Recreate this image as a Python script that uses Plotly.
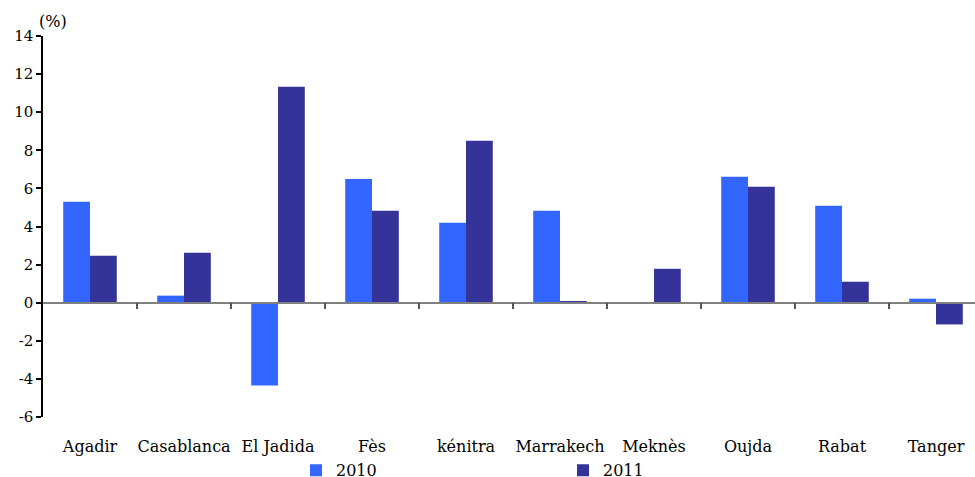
import plotly.graph_objects as go

# Year-on-year change by city (%)
cities = ["Agadir", "Casablanca", "El Jadida", "Fès", "kénitra",
          "Marrakech", "Meknès", "Oujda", "Rabat", "Tanger"]
values_2010 = [5.3, 0.37, -4.35, 6.5, 4.2, 4.83, 0.0, 6.61, 5.09, 0.21]
values_2011 = [2.47, 2.62, 11.34, 4.83, 8.5, 0.05, 1.78, 6.09, 1.1, -1.14]
y_ticks = [-6, -4, -2, 0, 2, 4, 6, 8, 10, 12, 14]

FONT = "DejaVu Serif"
x_range = [-0.5, 9.415]
y_min, y_max = -6, 14

fig = go.Figure()
fig.add_trace(go.Bar(name="2010", x=cities, y=values_2010,
                     marker=dict(color="#3366FF", line=dict(width=0))))
fig.add_trace(go.Bar(name="2011", x=cities, y=values_2011,
                     marker=dict(color="#333399", line=dict(width=0))))
# empty trace so the separator axis along zero gets drawn
fig.add_trace(go.Scatter(x=[None], y=[None], xaxis="x2", yaxis="y",
                         showlegend=False, hoverinfo="skip"))

fig.update_layout(
    width=975, height=477,
    margin=dict(l=43, r=0, t=36, b=60, autoexpand=False),
    plot_bgcolor="white", paper_bgcolor="white",
    barmode="group", bargap=0.43, bargroupgap=0,
    font=dict(family=FONT, size=15, color="black"),
    showlegend=True,
    legend=dict(orientation="h", x=(296 - 43) / 932, xanchor="left",
                y=-0.14, yanchor="middle",
                entrywidth=222, entrywidthmode="pixels",
                font=dict(family=FONT, size=16), bgcolor="rgba(0,0,0,0)"),
    xaxis=dict(type="category", range=x_range, showline=False,
               showgrid=False, zeroline=False, ticks="",
               ticklabelstandoff=18, automargin=False,
               tickfont=dict(family=FONT, size=16)),
    # category separators along the zero line
    xaxis2=dict(overlaying="x", anchor="free",
                position=(0 - y_min) / (y_max - y_min),
                range=x_range, type="linear",
                tickvals=[i + 0.5 for i in range(len(cities) - 1)],
                showticklabels=False, ticks="outside", ticklen=6,
                tickcolor="#555555", tickwidth=1.5,
                showline=True, linecolor="#808080", linewidth=1.5,
                showgrid=False, zeroline=False, automargin=False),
    yaxis=dict(range=[y_min, y_max], tickvals=y_ticks,
               ticktext=[str(v) for v in y_ticks],
               showline=True, linecolor="black", linewidth=1.5,
               ticks="outside", ticklen=5, tickcolor="black", tickwidth=1.5,
               showgrid=False, zeroline=False, automargin=False,
               tickfont=dict(family=FONT, size=15)),
    annotations=[dict(text="(%)", xref="paper", yref="paper",
                      x=-0.006, y=1.0, xanchor="left", yanchor="bottom",
                      yshift=3, showarrow=False,
                      font=dict(family=FONT, size=16))],
)

fig.write_html("out.html")
